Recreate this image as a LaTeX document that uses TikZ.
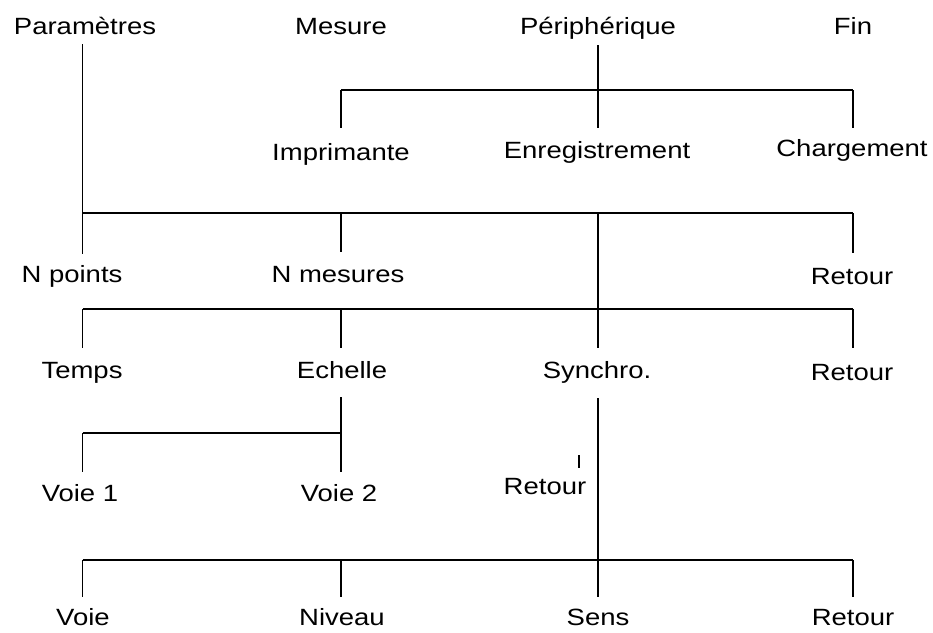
\documentclass[tikz,border=0pt]{standalone}
\usepackage{fontspec}
\setmainfont{Liberation Sans}[FakeStretch=1.17]
\begin{document}
\begin{tikzpicture}[x=1pt,y=-1pt,
  lbl/.style={anchor=base,inner sep=0pt,font=\fontsize{23.5}{28}\selectfont},
  branch/.style={line width=1.2pt},
  bar/.style={line width=2.4pt}]
\useasboundingbox[fill=white] (0,0) rectangle (933,632);

% menu labels
\node[lbl] (param)   at (85,34)   {Paramètres};
\node[lbl] (mesure)  at (341,34)  {Mesure};
\node[lbl] (periph)  at (598,34)  {Périphérique};
\node[lbl] (fin)     at (853,34)  {Fin};
\node[lbl] (impr)    at (341,160) {Imprimante};
\node[lbl] (enreg)   at (597,158) {Enregistrement};
\node[lbl] (charg)   at (852,156) {Chargement};
\node[lbl] (npoints) at (72,282)  {N points};
\node[lbl] (nmes)    at (338,282) {N mesures};
\node[lbl] (retA)    at (852,284) {Retour};
\node[lbl] (temps)   at (82,378)  {Temps};
\node[lbl] (echelle) at (342,378) {Echelle};
\node[lbl] (synchro) at (597,378) {Synchro.};
\node[lbl] (retB)    at (852,380) {Retour};
\node[lbl] (voieA)   at (80,501)  {Voie 1};
\node[lbl] (voieB)   at (339,501) {Voie 2};
\node[lbl] (retC)    at (545,494) {Retour};
\node[lbl] (voie)    at (83,625)  {Voie};
\node[lbl] (niveau)  at (342,625) {Niveau};
\node[lbl] (sens)    at (598,625) {Sens};
\node[lbl] (retD)    at (853,625) {Retour};

% line end points
\coordinate (pTop) at (82.5,44);
\coordinate (fTop) at (598,45);
\coordinate (a2) at (341,90);   \coordinate (a3) at (598,90);  \coordinate (a4) at (853,90);
\coordinate (i2) at (341,128);  \coordinate (i3) at (598,128); \coordinate (i4) at (853,128);
\coordinate (b1) at (82.5,213); \coordinate (b2) at (341,213); \coordinate (b3) at (598,213); \coordinate (b4) at (853,213);
\coordinate (n1) at (82.5,254); \coordinate (n2) at (341,252); \coordinate (n4) at (853,253);
\coordinate (c1) at (82.5,309); \coordinate (c2) at (341,309); \coordinate (c4) at (853,309);
\coordinate (t1) at (82.5,348); \coordinate (t2) at (341,348); \coordinate (t3) at (598,348); \coordinate (t4) at (853,348);
\coordinate (eTop) at (341,397); \coordinate (d1) at (82.5,433); \coordinate (d2) at (341,433);
\coordinate (v1) at (82.5,472);  \coordinate (v2) at (341,472);
\coordinate (sTop) at (598,398);
\coordinate (rTop) at (579,455); \coordinate (rBot) at (579,468);
\coordinate (e1) at (82.5,560); \coordinate (e2) at (341,560); \coordinate (e4) at (853,560);
\coordinate (w1) at (82.5,597); \coordinate (w2) at (341,597); \coordinate (w3) at (598,597); \coordinate (w4) at (853,597);

% Paramètres branch
\draw[branch] (pTop) -- (b1);
\draw[bar] (b1) -- (b4);
\draw[branch] (b1) -- (n1);
\draw[branch] (b2) -- (n2);
\draw[branch] (b4) -- (n4);
\draw[branch] (b3) -- (t3);
\draw[bar] (c1) -- (c4);
\draw[branch] (c1) -- (t1);
\draw[branch] (c2) -- (t2);
\draw[branch] (c4) -- (t4);

% Périphérique branch
\draw[branch] (fTop) -- (i3);
\draw[bar] (a2) -- (a4);
\draw[branch] (a2) -- (i2);
\draw[branch] (a4) -- (i4);

% Echelle branch
\draw[branch] (eTop) -- (v2);
\draw[bar] (d1) -- (d2);
\draw[branch] (d1) -- (v1);

% Synchro. branch
\draw[branch] (sTop) -- (w3);
\draw[branch] (rTop) -- (rBot);
\draw[bar] (e1) -- (e4);
\draw[branch] (e1) -- (w1);
\draw[branch] (e2) -- (w2);
\draw[branch] (e4) -- (w4);
\end{tikzpicture}
\end{document}
